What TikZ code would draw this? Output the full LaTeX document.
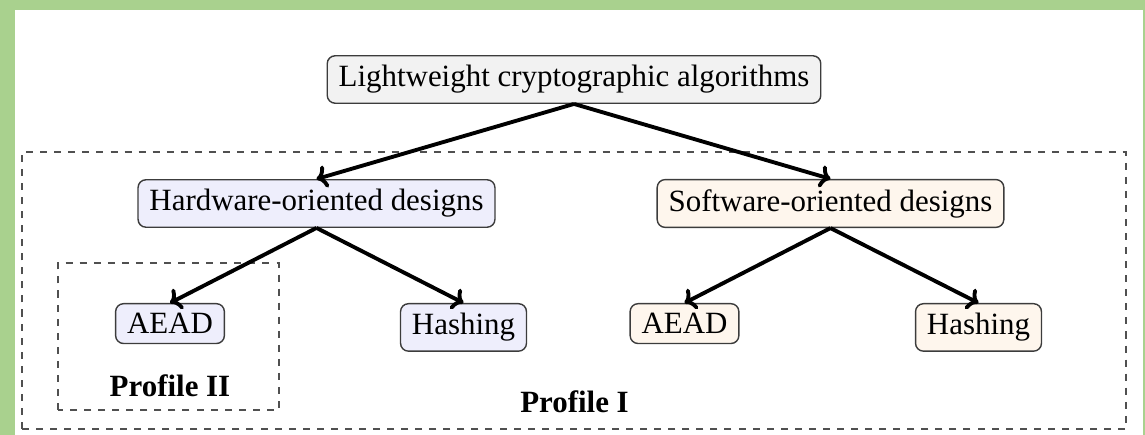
\documentclass[tikz,border=0pt]{standalone}
\usepackage{fontspec}
\setmainfont{Liberation Serif}
\usetikzlibrary{arrows.meta}
\definecolor{framegreen}{RGB}{169,209,142}
\definecolor{rootfill}{RGB}{242,242,242}
\definecolor{hwfill}{RGB}{238,238,252}
\definecolor{swfill}{RGB}{254,246,237}
\definecolor{boxline}{RGB}{60,60,60}
\definecolor{dashgray}{RGB}{80,80,80}

\begin{document}
\begin{tikzpicture}[x=1cm,y=1cm,
  algbox/.style={draw=boxline,line width=0.8pt,rounded corners=4.5pt,
    inner xsep=6.5pt,inner ysep=5.5pt,font=\fontsize{17.6}{21}\selectfont},
  profbox/.style={draw=dashgray,line width=1.2pt,dash pattern=on 4pt off 4pt},
  proflabel/.style={font=\fontsize{17.6}{21}\selectfont\bfseries},
  branch/.style={-{To[length=6pt,width=13pt]},line width=2.2pt}]
  \def\W{22.9}
  \def\H{8.7}
  \def\MidY{4.63}
  \def\LowY{2.64}

  \useasboundingbox (0,0) rectangle (\W,\H);
  \fill[framegreen] (0,8.5) rectangle (\W,\H);
  \fill[framegreen] (0,0) rectangle (0.3,\H);
  \fill[framegreen] (22.86,0) rectangle (\W,\H);

  \draw[profbox] (0.44,0.12) rectangle (22.52,5.66);
  \draw[profbox] (1.16,0.5) rectangle (5.58,3.44);

  \node[algbox,fill=rootfill] (root) at (11.48,7.11) {Lightweight cryptographic algorithms};
  \node[algbox,fill=hwfill] (hw) at (6.33,\MidY) {Hardware-oriented designs};
  \node[algbox,fill=swfill] (sw) at (16.61,\MidY) {Software-oriented designs};

  \node[algbox,fill=hwfill,anchor=north] (hwaead) at (3.40,\LowY) {AEAD};
  \node[algbox,fill=hwfill,anchor=north] (hwhash) at (9.27,\LowY) {Hashing};
  \node[algbox,fill=swfill,anchor=north] (swaead) at (13.69,\LowY) {AEAD};
  \node[algbox,fill=swfill,anchor=north] (swhash) at (19.57,\LowY) {Hashing};

  \node[proflabel] (profii) at (3.40,0.98) {Profile II};
  \node[proflabel] (profi) at (11.49,0.66) {Profile I};

  \draw[branch] (root.south) -- (hw.north);
  \draw[branch] (root.south) -- (sw.north);
  \draw[branch] (hw.south) -- (hwaead.north);
  \draw[branch] (hw.south) -- (hwhash.north);
  \draw[branch] (sw.south) -- (swaead.north);
  \draw[branch] (sw.south) -- (swhash.north);
\end{tikzpicture}
\end{document}
